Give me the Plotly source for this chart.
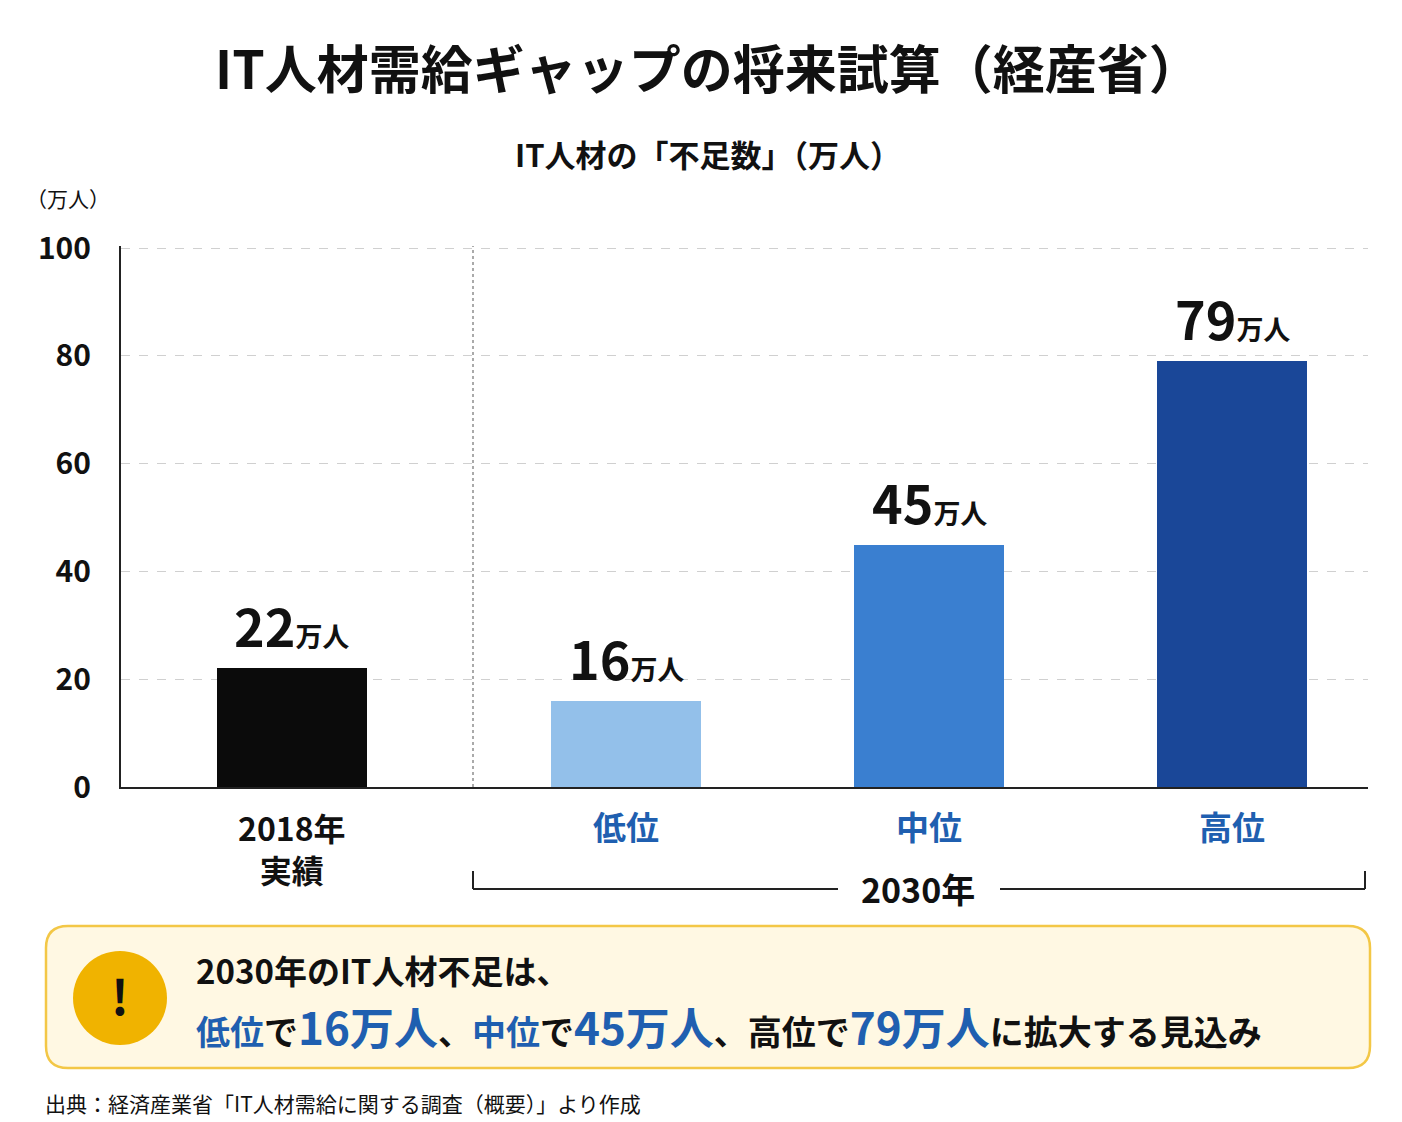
import plotly.graph_objects as go

categories = ["2018年実績", "低位", "中位", "高位"]
values = [22, 16, 45, 79]
colors = ["#0b0b0b", "#93c0ea", "#3a7fd0", "#1a4798"]
x_pos = [0.564, 1.667, 2.667, 3.667]
y_ticks = [0, 20, 40, 60, 80, 100]

F = "Noto Sans CJK JP"
L, R, T, B = 113, 1360, 238, 779
def px(x): return (x - L) / (R - L)
def py(y): return (B - y) / (B - T) * 100.6 / 100 if False else (B - y) / (B - T)

fig = go.Figure(go.Bar(x=x_pos, y=values, width=0.495, marker=dict(color=colors, line=dict(width=0)),
                       hoverinfo="skip"))

ann = []
for x, v in zip(x_pos, values):
    ann.append(dict(x=x, y=v, yshift=4, yanchor="bottom", showarrow=False,
                    text=f"<b><span style='font-size:52px'>{v}</span><span style='font-size:27px'>万人</span></b>",
                    font=dict(family=F, color="#111")))
ann.append(dict(x=x_pos[0], y=py(840), yref="y domain", showarrow=False, text="<b>2018年<br>実績</b>",
                font=dict(family=F, size=32, color="#111"), yanchor="middle"))
for x, c in zip(x_pos[1:], categories[1:]):
    ann.append(dict(x=x, y=py(818), yref="y domain", yanchor="middle", showarrow=False, text=f"<b>{c}</b>",
                    font=dict(family=F, size=33, color="#1f5fb0")))
def P(x, y, text, size, color="#111", xa="center", bold=True):
    ann.append(dict(x=px(x), y=py(y), xref="paper", yref="paper", showarrow=False, xanchor=xa, yanchor="middle",
                    text=f"<b>{text}</b>" if bold else text, font=dict(family=F, size=size, color=color)))
P(910, 880, "2030年", 34)
P(700, 58, "IT人材需給ギャップの将来試算（経産省）", 52)
P(700, 145, "IT人材の「不足数」（万人）", 31)
P(60, 190, "（万人）", 21, bold=False)
P(35, 1095, "出典：経済産業省「IT人材需給に関する調査（概要）」より作成", 21, xa="left", bold=False)
P(112, 986, "!", 48)
P(186, 962, "2030年のIT人材不足は、", 33, xa="left")
B1 = "#1f5fb0"
line2 = (f"<span style='color:{B1}'>低位</span>で<span style='color:{B1};font-size:44px'>16万人</span>、"
         f"<span style='color:{B1}'>中位</span>で<span style='color:{B1};font-size:44px'>45万人</span>、"
         f"高位で<span style='color:{B1};font-size:44px'>79万人</span>に拡大する見込み")
P(186, 1018, line2, 34, xa="left")

shapes = []
def S(**k):
    k.setdefault("xref", "paper"); k.setdefault("yref", "paper"); shapes.append(k)
S(type="line", x0=px(465), x1=px(465), y0=0, y1=1, line=dict(color="#aaa", width=2, dash="dot"))
S(type="line", x0=px(465), x1=px(1357), y0=py(881), y1=py(881), line=dict(color="#222", width=2), layer="below")
S(type="line", x0=px(465), x1=px(465), y0=py(881), y1=py(863), line=dict(color="#222", width=2))
S(type="line", x0=px(1357), x1=px(1357), y0=py(881), y1=py(863), line=dict(color="#222", width=2))
S(type="rect", x0=px(830), x1=px(992), y0=py(900), y1=py(862), fillcolor="white", line=dict(width=0))
x0, x1, y0, y1, r = 38, 1362, 918, 1060, 22
path = (f"M {px(x0+r)},{py(y0)} L {px(x1-r)},{py(y0)} Q {px(x1)},{py(y0)} {px(x1)},{py(y0+r)} "
        f"L {px(x1)},{py(y1-r)} Q {px(x1)},{py(y1)} {px(x1-r)},{py(y1)} L {px(x0+r)},{py(y1)} "
        f"Q {px(x0)},{py(y1)} {px(x0)},{py(y1-r)} L {px(x0)},{py(y0+r)} Q {px(x0)},{py(y0)} {px(x0+r)},{py(y0)} Z")
S(type="path", path=path, fillcolor="#fff8e3", line=dict(color="#f3c746", width=2.5))
S(type="circle", x0=px(65), x1=px(159), y0=py(1037), y1=py(943), fillcolor="#f0b300", line=dict(width=0))

fig.update_layout(
    width=1402, height=1122, margin=dict(l=L, r=1402 - R, t=T, b=1122 - B),
    paper_bgcolor="white", plot_bgcolor="white", showlegend=False, bargap=0,
    xaxis=dict(range=[0, (R - L) / 303], showticklabels=False, showgrid=False, zeroline=False,
               showline=True, linecolor="#222", linewidth=2, fixedrange=True),
    yaxis=dict(range=[0, 100.4], tickvals=y_ticks, showgrid=True, gridcolor="#d0d0d0", griddash="dash",
               zeroline=False, showline=True, linecolor="#222", linewidth=2, ticks="",
               tickfont=dict(family=F, size=30, color="#111", weight="bold"), ticklabelstandoff=22),
    annotations=ann, shapes=shapes, font=dict(family=F),
)
fig.write_html("out.html")
